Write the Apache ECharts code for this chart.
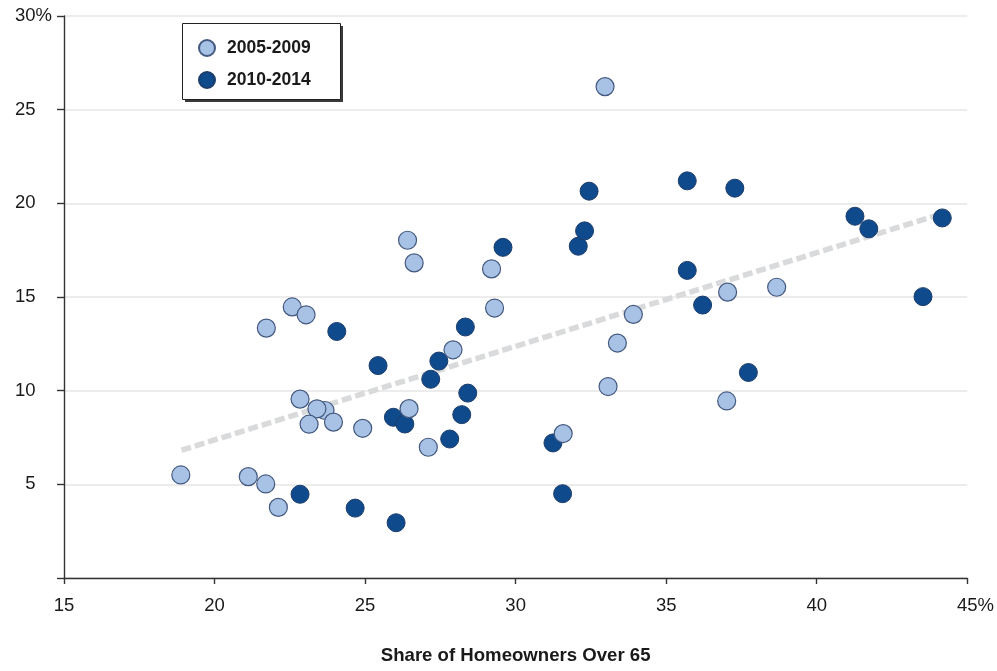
<!DOCTYPE html>
<html>
<head>
<meta charset="utf-8">
<style>
  html, body { margin: 0; padding: 0; background: #ffffff; }
  #chart { width: 997px; height: 671px; }
</style>
<script src="https://cdn.jsdelivr.net/npm/echarts@6/dist/echarts.min.js"></script>
</head>
<body>
<div id="chart"></div>
<script>
// Share of homeowners over 65 (x, %) vs. rate (y, %) by metro, two periods
const period2005 = [
  [18.88, 5.50], [21.12, 5.41], [21.70, 5.02], [22.12, 3.77], [21.72, 13.34],
  [22.58, 14.47], [23.04, 14.05], [22.84, 9.55], [23.67, 8.94], [23.40, 9.03],
  [23.14, 8.21], [23.95, 8.32], [24.92, 7.99], [26.41, 18.03], [26.63, 16.82],
  [26.46, 9.04], [27.10, 6.98], [27.92, 12.18], [29.20, 16.50], [29.30, 14.41],
  [32.97, 26.23], [31.58, 7.71], [33.07, 10.22], [33.38, 12.54], [33.91, 14.07],
  [37.04, 15.26], [37.01, 9.45], [38.67, 15.52]
];
const period2010 = [
  [22.84, 4.47], [24.06, 13.16], [24.67, 3.73], [25.43, 11.34], [25.94, 8.58],
  [26.32, 8.22], [26.03, 2.95], [27.18, 10.61], [27.45, 11.58], [28.33, 13.40],
  [28.41, 9.87], [28.21, 8.72], [27.81, 7.42], [29.58, 17.65], [32.44, 20.65],
  [32.08, 17.71], [32.29, 18.53], [31.24, 7.21], [31.56, 4.50], [35.70, 21.20],
  [37.28, 20.81], [35.70, 16.42], [36.21, 14.57], [37.73, 10.97], [41.27, 19.31],
  [41.73, 18.64], [44.17, 19.22], [43.53, 15.02]
];
// Fitted trend, endpoints
const trendLine = [[18.9, 6.82], [44.17, 19.45]];

const seriesNames = ['2005-2009', '2010-2014'];
const xTicks = [15, 20, 25, 30, 35, 40, 45];
const yTicks = [0, 5, 10, 15, 20, 25, 30];

const FONT = '"Liberation Sans", Arial, Helvetica, sans-serif';
const INK = '#1a1a1a';

const chart = echarts.init(document.getElementById('chart'), null, { renderer: 'canvas' });

chart.setOption({
  animation: false,
  backgroundColor: '#ffffff',
  textStyle: { fontFamily: FONT },
  grid: { left: 64, right: 29, top: 16, bottom: 93, containLabel: false },
  // Legend frame with a hard drop shadow
  graphic: [
    {
      type: 'rect', left: 185, top: 26, z: 0, silent: true,
      shape: { width: 158, height: 76 },
      style: { fill: '#3a3a3a' }
    },
    {
      type: 'rect', left: 182, top: 23, z: 1, silent: true,
      shape: { width: 158, height: 76 },
      style: { fill: '#ffffff', stroke: '#222222', lineWidth: 1 }
    }
  ],
  legend: {
    data: seriesNames,
    orient: 'vertical',
    left: 182,
    top: 23,
    padding: [16, 20, 10, 16],
    itemWidth: 16,
    itemHeight: 16,
    itemGap: 14,
    icon: 'circle',
    z: 10,
    selectedMode: false,
    textStyle: {
      fontFamily: FONT,
      fontSize: 17.5,
      fontWeight: 'bold',
      color: INK,
      padding: [0, 0, 0, 7]
    }
  },
  xAxis: {
    type: 'value',
    min: xTicks[0],
    max: xTicks[xTicks.length - 1],
    interval: 5,
    name: 'Share of Homeowners Over 65',
    nameLocation: 'middle',
    nameGap: 68,
    nameTextStyle: { fontFamily: FONT, fontSize: 18.6, fontWeight: 'bold', color: INK },
    axisLine: { show: true, onZero: false, lineStyle: { color: '#333333', width: 1.4 } },
    axisTick: { show: true, length: 6, lineStyle: { color: '#333333', width: 1.4 } },
    splitLine: { show: false },
    axisLabel: {
      margin: 18,
      fontFamily: FONT,
      fontSize: 18.5,
      color: INK,
      formatter: function (v) {
        return v === 45 ? '{h|%}{n|45}{p|%}' : String(v);
      },
      rich: {
        n: { fontFamily: FONT, fontSize: 18.5, color: INK },
        p: { fontFamily: FONT, fontSize: 18.5, color: INK },
        h: { fontFamily: FONT, fontSize: 18.5, color: 'rgba(0,0,0,0)' }
      }
    }
  },
  yAxis: {
    type: 'value',
    min: yTicks[0],
    max: yTicks[yTicks.length - 1],
    interval: 5,
    axisLine: { show: true, lineStyle: { color: '#333333', width: 1.4 } },
    axisTick: { show: true, length: 7, lineStyle: { color: '#333333', width: 1.4 } },
    splitLine: { show: true, lineStyle: { color: '#e6e6e6', width: 1.5 } },
    axisLabel: {
      margin: 12,
      fontFamily: FONT,
      fontSize: 18.5,
      color: INK,
      formatter: function (v) {
        if (v === 0) return '';
        return v === 30 ? '{n|30}{p|%}' : '{n|' + v + '}{q|%}';
      },
      rich: {
        n: { fontFamily: FONT, fontSize: 18.5, color: INK },
        p: { fontFamily: FONT, fontSize: 18.5, color: INK },
        q: { fontFamily: FONT, fontSize: 18.5, color: 'rgba(0,0,0,0)' }
      }
    }
  },
  series: [
    {
      name: 'trend',
      type: 'line',
      data: trendLine,
      symbol: 'none',
      silent: true,
      z: 1,
      lineStyle: { color: '#d9dadb', width: 5.5, type: [10, 4] }
    },
    {
      name: seriesNames[1],
      type: 'scatter',
      data: period2010,
      symbol: 'circle',
      symbolSize: 18,
      z: 3,
      itemStyle: { color: '#0e4a8c', borderColor: '#1d3d6b', borderWidth: 1, opacity: 1 }
    },
    {
      name: seriesNames[0],
      type: 'scatter',
      data: period2005,
      symbol: 'circle',
      symbolSize: 18,
      z: 4,
      itemStyle: { color: '#a8c2e6', borderColor: '#44597f', borderWidth: 1.2, opacity: 1 }
    }
  ]
});
</script>
</body>
</html>
